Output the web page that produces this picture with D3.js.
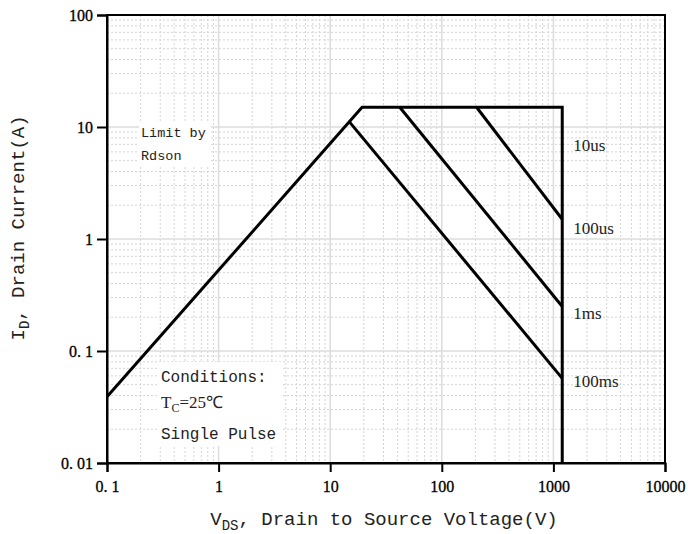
<!DOCTYPE html>
<html><head><meta charset="utf-8">
<script src="https://cdn.jsdelivr.net/npm/d3@7"></script>
<style>body{margin:0;background:#fff;} svg{display:block;}</style>
</head><body>
<svg id="chart" width="688" height="534"></svg>
<script>
// ---- data ----
const xTicks = [0.1, 1, 10, 100, 1000, 10000];
const xTickLabels = ["0. 1", "1", "10", "100", "1000", "10000"];
const yTicks = [0.01, 0.1, 1, 10, 100];
const yTickLabels = ["0. 01", "0. 1", "1", "10", "100"];

// SOA boundary (Rdson limit -> current limit -> voltage limit)
const limitV = [0.1, 19.3, 1200, 1200];
const limitI = [0.039, 15, 15, 0.01];
// pulse-width lines
const line100msV = [15, 1200];
const line100msI = [11, 0.057];
const line1msV = [42, 1200];
const line1msI = [15, 0.25];
const line100usV = [205, 1200];
const line100usI = [15, 1.5];

const pulseLabels = ["10us", "100us", "1ms", "100ms"];
const pulseLabelI = [6.9, 1.25, 0.22, 0.054];

// ---- layout ----
const svg = d3.select("#chart");
const L = 107, R = 665, T = 15, B = 463;
const x = d3.scaleLog().domain([0.1, 10000]).range([L, R]);
const y = d3.scaleLog().domain([0.01, 100]).range([B, T]);

const grid = svg.append("g");
// minor grid
const minorX = [], minorY = [];
for (let e = -1; e < 4; e++) for (let k = 2; k <= 9; k++) minorX.push(k * Math.pow(10, e));
for (let e = -2; e < 2; e++) for (let k = 2; k <= 9; k++) minorY.push(k * Math.pow(10, e));
grid.selectAll(".mx").data(minorX).join("line")
  .attr("x1", d => x(d)).attr("x2", d => x(d)).attr("y1", T).attr("y2", B)
  .attr("stroke", "#d4d4d4").attr("stroke-width", 1).attr("stroke-dasharray", "2,2");
grid.selectAll(".my").data(minorY).join("line")
  .attr("y1", d => y(d)).attr("y2", d => y(d)).attr("x1", L).attr("x2", R)
  .attr("stroke", "#d4d4d4").attr("stroke-width", 1).attr("stroke-dasharray", "2,2");
// major grid
grid.selectAll(".Mx").data(xTicks).join("line")
  .attr("x1", d => x(d)).attr("x2", d => x(d)).attr("y1", T).attr("y2", B)
  .attr("stroke", "#dcdcdc").attr("stroke-width", 1.5);
grid.selectAll(".My").data(yTicks).join("line")
  .attr("y1", d => y(d)).attr("y2", d => y(d)).attr("x1", L).attr("x2", R)
  .attr("stroke", "#dcdcdc").attr("stroke-width", 1.5);

// white backgrounds behind annotation text
const bg = svg.append("g").attr("fill", "#fff");
bg.append("rect").attr("x", 139).attr("y", 121).attr("width", 72).attr("height", 45);
bg.append("rect").attr("x", 157).attr("y", 362).attr("width", 124).attr("height", 84);

// lines
const lineGen = d3.line().x(d => x(d[0])).y(d => y(d[1]));
const series = [
  d3.zip(limitV, limitI),
  d3.zip(line100msV, line100msI),
  d3.zip(line1msV, line1msI),
  d3.zip(line100usV, line100usI)
];
svg.append("g").selectAll("path").data(series).join("path")
  .attr("d", lineGen).attr("fill", "none").attr("stroke", "#000")
  .attr("stroke-width", 3).attr("stroke-linejoin", "miter");

// frame
svg.append("rect").attr("x", L).attr("y", T).attr("width", R - L).attr("height", B - T)
  .attr("fill", "none").attr("stroke", "#000").attr("stroke-width", 2);

// axes
const xAxis = svg.append("g").attr("transform", `translate(0,${B})`)
  .call(d3.axisBottom(x).tickValues(xTicks).tickFormat((d, i) => xTickLabels[i]).tickSize(9).tickPadding(9));
const yAxis = svg.append("g").attr("transform", `translate(${L},0)`)
  .call(d3.axisLeft(y).tickValues(yTicks).tickFormat((d, i) => yTickLabels[i]).tickSize(10).tickPadding(4));
[xAxis, yAxis].forEach(a => {
  a.select(".domain").attr("stroke", "#000").attr("stroke-width", 2);
  a.selectAll(".tick line").attr("stroke", "#000").attr("stroke-width", 2);
  a.selectAll(".tick text").attr("fill", "#000")
    .attr("stroke", "#000").attr("stroke-width", 0.3)
    .style("font-family", "'Liberation Serif', serif").style("font-size", "16px");
});

// pulse labels
svg.append("g").selectAll("text").data(pulseLabels).join("text")
  .attr("x", x(1200) + 11).attr("y", (d, i) => y(pulseLabelI[i]) + 6)
  .text(d => d).attr("fill", "#222")
  .style("font-family", "'Liberation Serif', serif").style("font-size", "17px");

// annotations
const mono = "'Liberation Mono', monospace";
svg.append("text").attr("x", 141).attr("y", 137).text("Limit by")
  .style("font-family", mono).style("font-size", "13.5px").attr("fill", "#222");
svg.append("text").attr("x", 141).attr("y", 160).text("Rdson")
  .style("font-family", mono).style("font-size", "13.5px").attr("fill", "#222");
svg.append("text").attr("x", 161).attr("y", 382).text("Conditions:")
  .style("font-family", mono).style("font-size", "16px").attr("fill", "#222");
const tc = svg.append("text").attr("x", 161).attr("y", 408)
  .style("font-family", "'Liberation Serif', serif").style("font-size", "17px").attr("fill", "#222");
tc.append("tspan").text("T");
tc.append("tspan").text("C").attr("dy", 4).style("font-size", "12px");
tc.append("tspan").text("=25℃").attr("dy", -4);
svg.append("text").attr("x", 161).attr("y", 439).text("Single Pulse")
  .style("font-family", mono).style("font-size", "16px").attr("fill", "#222");

// axis titles
const xt = svg.append("text").attr("x", 384).attr("y", 525).attr("text-anchor", "middle")
  .style("font-family", mono).style("font-size", "19px").attr("fill", "#222");
xt.append("tspan").text("V");
xt.append("tspan").text("DS").attr("dy", 5).style("font-size", "14px");
xt.append("tspan").text(", Drain to Source Voltage(V)").attr("dy", -5);

const yt = svg.append("text").attr("transform", "translate(24,228) rotate(-90)").attr("text-anchor", "middle")
  .style("font-family", mono).style("font-size", "19px").attr("fill", "#222");
yt.append("tspan").text("I");
yt.append("tspan").text("D").attr("dy", 5).style("font-size", "14px");
yt.append("tspan").text(", Drain Current(A)").attr("dy", -5);
</script>
</body></html>
